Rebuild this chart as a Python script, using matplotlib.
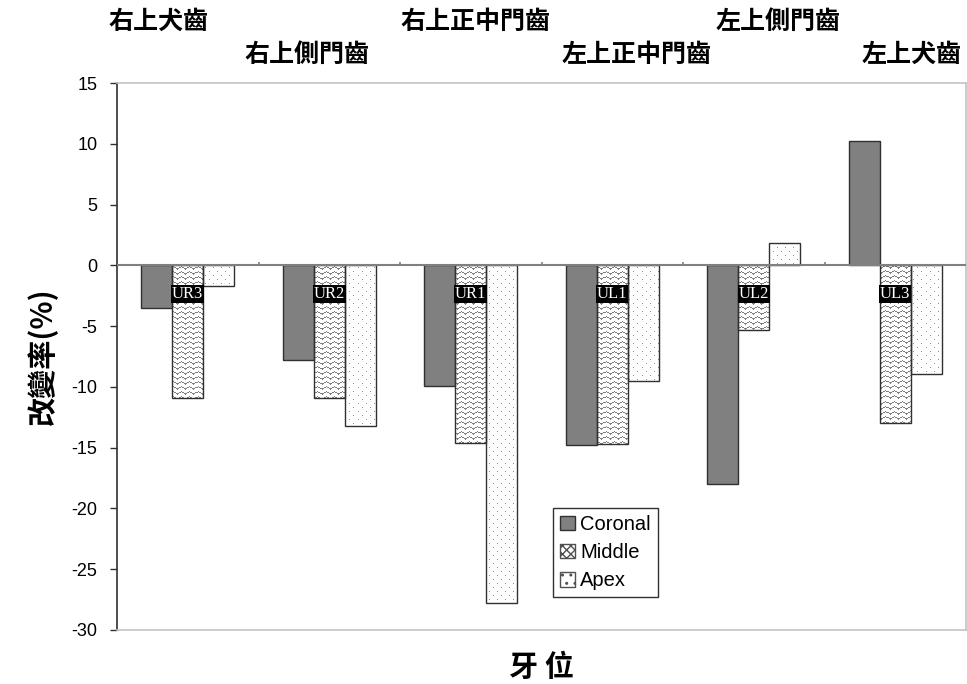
import numpy as np
import matplotlib
matplotlib.use("Agg")
import matplotlib.pyplot as plt
from matplotlib.patches import Patch

# ---- data -------------------------------------------------------------
teeth = ["UR3", "UR2", "UR1", "UL1", "UL2", "UL3"]
tooth_names = ["右上犬齒", "右上側門齒", "右上正中門齒", "左上正中門齒", "左上側門齒", "左上犬齒"]
coronal = [-3.5, -7.8, -9.9, -14.8, -18.0, 10.2]
middle = [-10.9, -10.9, -14.6, -14.7, -5.3, -13.0]
apex = [-1.7, -13.2, -27.8, -9.5, 1.8, -8.9]
series_names = ["Coronal", "Middle", "Apex"]
yticks = list(range(-30, 20, 5))

plt.rcParams["axes.unicode_minus"] = False
CJK = ["Noto Sans CJK TC", "DejaVu Sans"]

W, H, DPI = 967, 684, 100
fig = plt.figure(figsize=(W / DPI, H / DPI), dpi=DPI)
ax_l, ax_r, ax_t, ax_b = 117, 966, 83, 630
ax = fig.add_axes([ax_l / W, 1 - ax_b / H, (ax_r - ax_l) / W, (ax_b - ax_t) / H])

xlim = (-0.5, len(teeth) - 0.5)
ylim = (-30, 15)
ax.set_xlim(*xlim)
ax.set_ylim(*ylim)

x = np.arange(len(teeth))
bw = 0.22
edge = "#303030"

# textures (one texel per screen pixel)
pw, ph = ax_r - ax_l, ax_b - ax_t
ii, jj = np.meshgrid(np.arange(pw), np.arange(ph))
P = 8.0
tri = np.abs((ii % P) - P / 2) / (P / 2) * 2.5
zig = ((jj + tri) % 5.0) < 1.2
zig_img = np.ones((ph, pw, 3))
zig_img[zig] = 0.5

dots = ((ii % 8) == 0) & ((jj % 8) == 0) | (((ii + 4) % 8) == 0) & (((jj + 4) % 8) == 0)
dot_img = np.ones((ph, pw, 3))
dot_img[dots] = 0.55


def textured_bars(xs, vals, img):
    bars = ax.bar(xs, vals, bw, facecolor="none", edgecolor=edge, linewidth=1.0, zorder=3)
    for b in bars:
        im = ax.imshow(img, extent=[xlim[0], xlim[1], ylim[0], ylim[1]], origin="upper",
                       aspect="auto", interpolation="nearest", zorder=2)
        im.set_clip_path(b)
    return bars


ax.bar(x - bw, coronal, bw, facecolor="#808080", edgecolor=edge, linewidth=1.0, zorder=3)
textured_bars(x, middle, zig_img)
textured_bars(x + bw, apex, dot_img)
ax.set_xlim(*xlim)
ax.set_ylim(*ylim)

# zero line with category separators
ax.axhline(0, color="#808080", lw=1.5, zorder=4)
ax.vlines(np.arange(len(teeth) - 1) + 0.5, 0, 0.28, color="#808080", lw=1.2, zorder=4)

# tooth codes on the middle bars
for xi, t in zip(x, teeth):
    ax.text(xi, -2.35, t, ha="center", va="center", color="white", fontsize=12,
            family="Liberation Serif", zorder=6,
            bbox=dict(boxstyle="square,pad=0.05", facecolor="black", edgecolor="none"))

# axes styling
ax.set_xticks([])
ax.set_yticks(yticks)
ax.tick_params(axis="y", direction="out", length=5, width=1, color="#303030",
               labelsize=13, pad=9)
for lab in ax.get_yticklabels():
    lab.set_family("Liberation Sans")
for s in ("top", "right", "bottom"):
    ax.spines[s].set_color("#c4c4c4")
    ax.spines[s].set_linewidth(1.2)
ax.spines["left"].set_color("#303030")
ax.spines["left"].set_linewidth(1.2)

ax.set_ylabel("改變率(%)", family=CJK, fontsize=21, fontweight="bold", labelpad=10)
ax.set_xlabel("牙 位", family=CJK, fontsize=21, fontweight="bold", labelpad=16)

# tooth names above the plot, staggered in two rows
name_pos = [(158, 22), (307, 55), (475, 22), (637, 55), (778, 22), (912, 55)]
for (px, py), name in zip(name_pos, tooth_names):
    fig.text(px / W, 1 - py / H, name, ha="center", va="center", family=CJK,
             fontsize=18, fontweight="bold")

handles = [
    Patch(facecolor="#808080", edgecolor=edge, label=series_names[0]),
    Patch(facecolor="white", edgecolor="#505050", hatch="xxxx", label=series_names[1]),
    Patch(facecolor="white", edgecolor="#505050", hatch="..", label=series_names[2]),
]
leg = ax.legend(handles=handles, loc="upper left",
                bbox_to_anchor=((553 - ax_l) / pw, (ax_b - 508) / ph),
                prop={"family": "Liberation Sans", "size": 14.5}, fancybox=False,
                edgecolor="#303030", framealpha=1, handlelength=0.75, handleheight=0.75,
                handletextpad=0.25, borderpad=0.35, labelspacing=0.45, borderaxespad=0)
leg.get_frame().set_linewidth(1.0)

fig.savefig("out.png", dpi=DPI)
